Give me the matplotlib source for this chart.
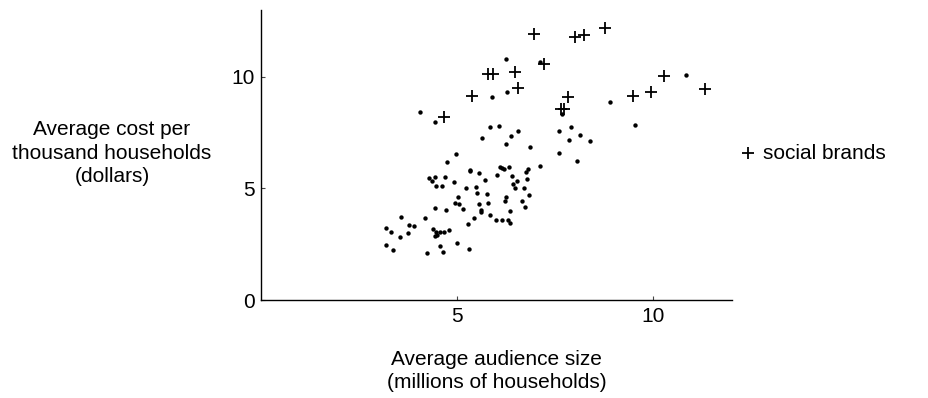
import matplotlib
matplotlib.use("Agg")
import matplotlib.pyplot as plt

# social brands (crosses)
social_x = [4.65, 5.37, 5.78, 5.91, 6.46, 6.54, 6.95, 7.22, 7.65, 7.73, 7.83,
            8.01, 8.24, 8.77, 9.47, 9.94, 10.26, 11.32]
social_y = [8.21, 9.14, 10.11, 10.15, 10.20, 9.49, 11.91, 10.57, 8.55, 8.54, 9.09,
            11.79, 11.88, 12.18, 9.14, 9.33, 10.03, 9.45]

# other brands (dots)
other_x = [6.246, 7.112, 5.880, 6.254, 4.046, 4.428, 7.673, 8.890, 10.843, 9.531,
           5.821, 6.050, 5.625, 6.374, 6.552, 6.249, 6.847, 7.586, 7.909, 7.846,
           8.126, 8.375, 7.604, 8.042, 7.120, 4.955, 4.734, 6.076, 6.145, 6.185,
           6.318, 5.312, 5.325, 5.554, 6.012, 6.394, 6.746, 6.814, 6.789, 5.694,
           4.276, 4.421, 4.357, 4.688, 4.917, 6.529, 6.427, 4.464, 4.617, 5.210,
           5.472, 6.476, 6.713, 5.503, 5.745, 6.234, 6.822, 5.014, 6.221, 6.654,
           4.930, 5.045, 5.541, 5.778, 6.720, 4.438, 4.701, 5.152, 5.610, 5.592,
           6.338, 5.826, 4.174, 3.563, 5.427, 5.992, 6.134, 6.300, 6.336, 5.266,
           3.766, 3.891, 3.181, 4.375, 3.295, 3.728, 4.459, 4.548, 4.670, 4.777,
           4.426, 4.472, 3.537, 4.986, 3.178, 4.556, 3.369, 5.287, 4.235, 4.624]
other_y = [10.79, 10.67, 9.113, 9.328, 8.433, 7.985, 8.330, 8.889, 10.09, 7.850,
           7.734, 7.792, 7.268, 7.358, 7.591, 6.986, 6.843, 7.568, 7.747, 7.165,
           7.376, 7.120, 6.596, 6.238, 5.992, 6.538, 6.202, 5.970, 5.920, 5.858,
           5.943, 5.844, 5.777, 5.687, 5.620, 5.544, 5.723, 5.880, 5.432, 5.383,
           5.450, 5.499, 5.320, 5.508, 5.293, 5.329, 5.186, 5.105, 5.105, 5.029,
           5.074, 5.007, 5.002, 4.783, 4.769, 4.613, 4.689, 4.613, 4.420, 4.447,
           4.344, 4.299, 4.299, 4.331, 4.174, 4.142, 4.030, 4.062, 4.030, 3.941,
           3.999, 3.820, 3.672, 3.704, 3.659, 3.592, 3.569, 3.574, 3.448, 3.395,
           3.359, 3.323, 3.238, 3.180, 3.036, 3.014, 3.032, 3.045, 3.032, 3.135,
           2.853, 2.911, 2.808, 2.562, 2.463, 2.432, 2.248, 2.284, 2.114, 2.159]

x_ticks = [5, 10]
y_ticks = [0, 5, 10]

plt.rcParams['font.family'] = ['Liberation Sans', 'DejaVu Sans']

W, H = 929, 398
FS = 15
fig = plt.figure(figsize=(W / 100, H / 100), dpi=100)
ax = fig.add_axes([261.4 / W, 1 - 300 / H, (731.7 - 261.4) / W, (300 - 10) / H])

ax.scatter(other_x, other_y, s=10, color='black', marker='o', linewidths=0, zorder=3)
sc = ax.scatter(social_x, social_y, s=75, color='black', marker='+', linewidths=1.3,
                zorder=4, label='social brands')

ax.set_xlim(0, 12)
ax.set_ylim(0, 13)
ax.set_xticks(x_ticks)
ax.set_yticks(y_ticks)
ax.tick_params(direction='in', length=3, width=0.8, labelsize=FS, pad=5, color='#444444')
for side in ['top', 'right']:
    ax.spines[side].set_visible(False)
for side in ['left', 'bottom']:
    ax.spines[side].set_linewidth(1.0)

fig.text(112 / W, 1 - 153 / H, "Average cost per\nthousand households\n(dollars)",
         ha='center', va='center', fontsize=FS, linespacing=1.33, multialignment='center')
fig.text(496.5 / W, 1 - 371 / H, "Average audience size\n(millions of households)",
         ha='center', va='center', fontsize=FS, linespacing=1.33, multialignment='center')

ax.legend(handles=[sc], loc='center left', bbox_to_anchor=(737.6 / W, 1 - 153 / H),
          bbox_transform=fig.transFigure, frameon=False, fontsize=FS, borderpad=0,
          borderaxespad=0, handlelength=1.0, handletextpad=0.22, scatterpoints=1)

fig.savefig("out.png", dpi=100)
